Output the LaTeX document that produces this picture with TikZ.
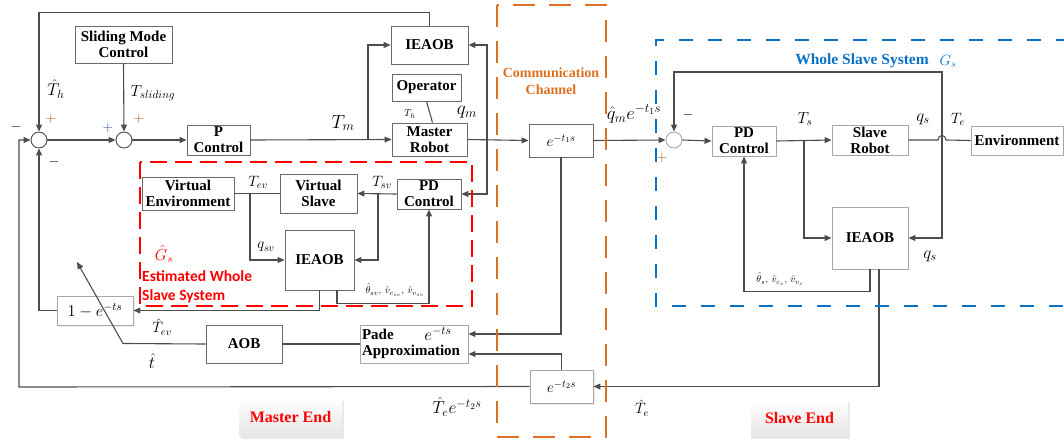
\RequirePackage{fix-cm}
\documentclass[tikz,border=0pt]{standalone}
\usepackage{fontspec}
\setmainfont{Liberation Serif}
\newfontfamily\calib{Carlito}
\usetikzlibrary{arrows.meta,shadows}
\definecolor{lnc}{HTML}{4D4D4D}
\definecolor{bxc}{HTML}{6A6A6A}
\definecolor{bxl}{HTML}{A8A8A8}
\definecolor{blu}{HTML}{0A72C6}
\definecolor{org}{HTML}{DD7020}
\definecolor{plbr}{HTML}{9A5A20}
\definecolor{plbl}{HTML}{2F5597}
\tikzset{
  box/.style={draw=bxc, line width=0.9pt, fill=white, align=center, inner sep=0pt,
    font=\bfseries\fontsize{15}{16}\selectfont},
  lbox/.style={box, draw=bxl},
  sumc/.style={circle, draw=lnc, line width=0.9pt, minimum size=16pt, inner sep=0pt, fill=white},
  arr/.style={draw=lnc, line width=1.1pt, -{Triangle[length=7pt,width=6pt]}},
  wire/.style={draw=lnc, line width=1.1pt},
  lbl/.style={inner sep=0pt, font=\fontsize{15}{17}\selectfont},
  mlbl/.style={inner sep=0pt, font=\fontsize{17}{19}\selectfont},
  blbl/.style={inner sep=0pt, font=\fontsize{19}{21}\selectfont},
  slbl/.style={inner sep=0pt, font=\fontsize{10}{12}\selectfont},
  tlbl/.style={inner sep=0pt, font=\fontsize{10}{11}\selectfont},
  sgn/.style={inner sep=0pt, font=\fontsize{14}{15}\selectfont},
  endbox/.style={draw=none, top color=white, bottom color=gray!20, inner sep=0pt,
    drop shadow={opacity=0.18, shadow xshift=2pt, shadow yshift=-2pt},
    text=red, font=\bfseries\fontsize{16}{17}\selectfont},
}
\begin{document}
\begin{tikzpicture}[x=1pt,y=-1pt]
\useasboundingbox (0,0) rectangle (1064,439);

% ---------- master side boxes ----------
\node[box, minimum width=97pt, minimum height=37pt] (smc) at (123.5,44.5) {Sliding Mode\\Control};
\node[box, minimum width=63pt, minimum height=30pt] (pc) at (218.5,140) {P\\Control};
\node[box, minimum width=77pt, minimum height=38pt] (ieaobm) at (429.5,45) {IEAOB};
\node[box, minimum width=69pt, minimum height=27pt] (oper) at (426.5,87.5) {Operator};
\node[box, minimum width=75pt, minimum height=33pt] (mr) at (429.5,139.5) {Master\\Robot};
\node[box, minimum width=64pt, minimum height=33pt, font=\fontsize{15}{17}\selectfont] (et1) at (561,140.5) {$e^{-t_1 s}$};

\node[sumc] (s1) at (39,140) {};
\node[sumc] (s2) at (124,140) {};

% virtual (estimated) slave
\node[box, minimum width=92pt, minimum height=33pt] (venv) at (188,193.5) {Virtual\\Environment};
\node[box, minimum width=77pt, minimum height=39pt] (vs) at (318.5,193.5) {Virtual\\Slave};
\node[box, minimum width=64pt, minimum height=30pt] (pdv) at (429,194) {PD\\Control};
\node[box, minimum width=69pt, minimum height=60pt] (ieaobv) at (319.5,260) {IEAOB};

\node[lbox, minimum width=76pt, minimum height=29pt, font=\fontsize{16.5}{18}\selectfont,
  drop shadow={opacity=0.12, shadow xshift=1.5pt, shadow yshift=-1.5pt}] (ome) at (95,310.5) {$1-e^{-ts}$};
\node[box, minimum width=76pt, minimum height=38pt] (aob) at (244,344) {AOB};
\node[lbox, minimum width=108pt, minimum height=38pt, align=left, text width=104pt] (pade) at (414,344) {Pade\\Approximation};
\node[mlbl] (padee) at (438,334) {$e^{-ts}$};
\node[lbox, minimum width=63pt, minimum height=33pt, font=\fontsize{15}{17}\selectfont,
  drop shadow={opacity=0.15, shadow xshift=1.5pt, shadow yshift=-1.5pt}] (et2) at (561.5,386.5) {$e^{-t_2 s}$};

% ---------- slave side ----------
\node[sumc, draw=bxl] (s3) at (674,140) {};
\node[lbox, minimum width=64pt, minimum height=30pt] (pds) at (744,141) {PD\\Control};
\node[lbox, minimum width=76pt, minimum height=30pt] (sr) at (870,140) {Slave\\Robot};
\node[lbox, minimum width=92pt, minimum height=29pt] (env) at (1017,140.5) {Environment};
\node[lbox, minimum width=76pt, minimum height=62pt] (ieaobs) at (870,238) {IEAOB};

% ---------- end labels ----------
\node[endbox, minimum width=103pt, minimum height=38pt] (mend) at (290.5,417.5) {Master End};
\node[endbox, minimum width=97pt, minimum height=37pt] (send) at (799.5,418.5) {Slave End};

% ---------- connectors (master) ----------
\draw[arr] (ieaobm.north) -- ++(0,-13) -| (s1.north);
\draw[arr] (smc.south) -- (s2.north);
\draw[arr] (s1.east) -- (s2.west);
\draw[arr] (s2.east) -- (pc.west);
\draw[arr] (pc.east) -- (mr.west);
\coordinate (tmb) at (368,140);
\draw[arr] (tmb) |- (ieaobm.west);
\draw[wire] (oper.south) -- ([xshift=3pt]mr.north);
\draw[arr] (mr.east) -- (et1.west);
\coordinate (qmb) at (487,140);
\draw[arr] (qmb) |- (ieaobm.east);
\draw[arr] (qmb) |- (pdv.east);
\draw[arr] (et1.south) |- ([yshift=10pt]pade.east);
\draw[arr] (et2.north) |- ([yshift=-10pt]pade.east);
\draw[wire] (aob.east) -- (pade.west);
\coordinate (tbend) at (123,343.5);
\coordinate (ttip) at (77,262);
\draw[arr] (aob.west) -- (tbend) -- (ttip);
\coordinate (fbl) at (19,387);
\draw[arr] (et2.west) -- (fbl) |- (s1.west);
\draw[arr] (ome.west) -| (s1.south);

% virtual
\draw[arr] (pdv.west) -- (vs.east);
\coordinate (tsvb) at (378,194);
\draw[arr] (tsvb) |- (ieaobv.east);
\draw[wire] (vs.west) -- (venv.east);
\coordinate (tevb) at (250,193.5);
\draw[arr] (tevb) |- (ieaobv.west);
\draw[arr] ([xshift=17.5pt]ieaobv.south) -- ++(0,13) -| (pdv.south);
\draw[arr] (ieaobv.south) |- (ome.east);

% ---------- connectors (slave) ----------
\draw[arr] (et1.east) -- (s3.west);
\draw[arr] (s3.east) -- (pds.west);
\draw[arr] (pds.east) -- (sr.west);
\coordinate (tsb) at (804,140);
\draw[arr] (tsb) |- (ieaobs.west);
\coordinate (bj1) at (938,140);
\coordinate (bj2) at (946,140);
\draw[wire] (sr.east) -- (bj1) .. controls (938,134) and (946,134) .. (bj2) -- (env.west);
\coordinate (qsb) at (942,140);
\coordinate (qstop) at (942,72);
\draw[arr] (qsb) |- (ieaobs.east);
\draw[arr] (qsb) -- (qstop) -| (s3.north);
\draw[arr] ([xshift=9pt]ieaobs.south) |- (et2.east);
\draw[arr] (ieaobs.south) -- ++(0,22) -| (pds.south);

% ---------- labels ----------
\node[mlbl] (lTh) at (56,89) {$\hat{T}_h$};
\node[inner sep=0pt, font=\fontsize{16}{18}\selectfont] (lTsl) at (153,93) {$T_{sliding}$};
\node[sgn] (m1) at (16,127) {$-$};
\node[sgn, text=plbr] (p1) at (51,119) {$+$};
\node[sgn] (m2) at (54,162) {$-$};
\node[sgn, text=plbl] (p2) at (108,128) {$+$};
\node[sgn, text=plbr] (p3) at (139,119) {$+$};
\node[blbl] (lTm) at (343,123) {$T_m$};
\node[slbl] (lTh2) at (410,114) {$T_h$};
\node[blbl] (lqm) at (467,112) {$q_m$};
\node[inner sep=0pt, font=\fontsize{18.5}{20}\selectfont] (lqme) at (634,114) {$\hat{q}_m e^{-t_1 s}$};
\node[sgn] (m3) at (688,115) {$-$};
\node[sgn, text=plbr] (p4) at (662,158) {$+$};
\node[inner sep=0pt, font=\fontsize{16}{18}\selectfont] (lTs) at (805,119) {$T_s$};
\node[mlbl] (lqs) at (923,119) {$q_s$};
\node[lbl] (lTe) at (958,119) {$T_e$};
\node[mlbl] (lqs2) at (930,256) {$q_s$};
\node[tlbl] (lths) at (780,279) {$\hat{\theta}_s,\,\hat{v}_{c_s},\,\hat{v}_{v_s}$};
\node[inner sep=0pt, text=blu, font=\bfseries\fontsize{15.5}{17}\selectfont] (lwss) at (862,61) {Whole Slave System};
\node[lbl, text=blu] (lGs) at (948,61) {$G_s$};
\node[inner sep=0pt, text=org, align=center, font=\bfseries\fontsize{14}{17}\selectfont] (lcc) at (551,81.5) {Communication\\Channel};
\node[lbl] (lTev) at (258,182) {$T_{ev}$};
\node[lbl] (lqsv) at (266,247) {$q_{sv}$};
\node[lbl] (lTsv) at (382,182) {$T_{sv}$};
\node[tlbl] (lthsv) at (395,290) {$\hat{\theta}_{sv},\,\hat{v}_{c_{sv}},\,\hat{v}_{v_{sv}}$};
\node[inner sep=0pt, text=red, font=\fontsize{16}{18}\selectfont] (lGh) at (164,254) {$\hat{G}_s$};
\node[inner sep=0pt, anchor=west, align=left, text=red, font=\calib\bfseries\fontsize{15.5}{19}\selectfont] (lest) at (142,286.5) {Estimated Whole\\Slave System};
\node[lbl] (lTevh) at (162,327) {$\hat{T}_{ev}$};
\node[mlbl] (lth) at (152,361) {$\hat{t}$};
\node[inner sep=0pt, font=\fontsize{17.5}{19}\selectfont] (lTee) at (457,407) {$\hat{T}_e e^{-t_2 s}$};
\node[lbl] (lTeh) at (642,408) {$\hat{T}_e$};

% ---------- dashed regions ----------
\draw[red, line width=2.8pt, dash pattern=on 17pt off 8pt] (140,162) rectangle (472,306);
\draw[org, line width=2.6pt, dash pattern=on 22pt off 14pt] (497,5) rectangle (606,437);
\draw[blu, line width=2.6pt, dash pattern=on 14pt off 15pt] (1070,40) -- (656,40) -- (656,306) -- (1070,306);
\end{tikzpicture}
\end{document}
